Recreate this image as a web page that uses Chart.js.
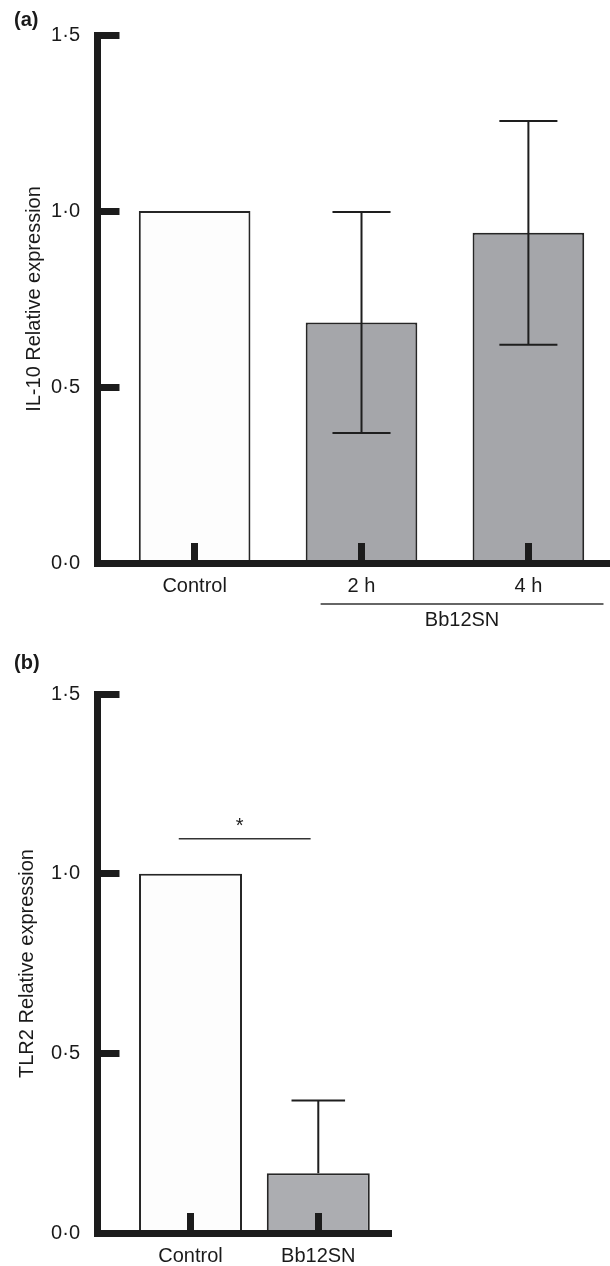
<!DOCTYPE html>
<html>
<head>
<meta charset="utf-8">
<script src="https://cdn.jsdelivr.net/npm/chart.js@4"></script>
<style>
  body { margin: 0; background: #fff; }
  canvas { display: block; }
</style>
</head>
<body>
<canvas id="graficoA" width="610" height="635"></canvas>
<canvas id="graficoB" width="610" height="631"></canvas>
<script>
// Datos panel (a): IL-10
const categoriasA = ['Control', '2 h', '4 h'];
const il10 = [1.0, 0.683, 0.938];
const il10Error = [0, 0.314, 0.318];

// Datos panel (b): TLR2
const categoriasB = ['Control', 'Bb12SN'];
const tlr2 = [1.0, 0.166];
const tlr2Error = [0, 0.203];

// Ticks del eje y (iguales en los dos paneles)
const yTicks = [0, 0.5, 1.0, 1.5];

const fuente = '"Liberation Sans", Arial, Helvetica, sans-serif';
const negro = '#1c1c1c';
const texto = '#1a1a1a';

// Barras de error dibujadas con la escala y del grafico
const barrasError = {
  id: 'barrasError',
  afterDatasetsDraw(chart, args, opts) {
    const ctx = chart.ctx;
    const y = chart.scales.y;
    const meta = chart.getDatasetMeta(0);
    const datos = chart.data.datasets[0].data;
    ctx.save();
    ctx.strokeStyle = '#1e1e1e';
    ctx.lineWidth = 2;
    meta.data.forEach((barra, i) => {
      const err = opts.errores[i];
      if (!err) return;
      const v = datos[i].y;
      const arriba = y.getPixelForValue(v + err);
      const abajo = opts.ambos ? y.getPixelForValue(v - err) : barra.y;
      const media = barra.width * 0.26;
      ctx.beginPath();
      ctx.moveTo(barra.x, arriba);
      ctx.lineTo(barra.x, abajo);
      ctx.moveTo(barra.x - media, arriba);
      ctx.lineTo(barra.x + media, arriba);
      if (opts.ambos) {
        ctx.moveTo(barra.x - media, abajo);
        ctx.lineTo(barra.x + media, abajo);
      }
      ctx.stroke();
    });
    ctx.restore();
  }
};

// Letra del panel, corchete de grupo y linea de significancia
const anotaciones = {
  id: 'anotaciones',
  afterDraw(chart, args, opts) {
    const ctx = chart.ctx;
    const x = chart.scales.x;
    const y = chart.scales.y;
    const abajo = chart.chartArea.bottom;
    ctx.save();
    ctx.fillStyle = texto;
    ctx.font = 'bold 20px ' + fuente;
    ctx.textAlign = 'left';
    ctx.textBaseline = 'alphabetic';
    ctx.fillText(opts.panel, 14, opts.panelY);

    ctx.strokeStyle = '#333';
    ctx.lineWidth = 1.5;
    if (opts.corchete) {
      const c = opts.corchete;
      const x1 = x.getPixelForValue(c.desde);
      const x2 = x.getPixelForValue(c.hasta);
      ctx.beginPath();
      ctx.moveTo(x1, abajo + 41);
      ctx.lineTo(x2, abajo + 41);
      ctx.stroke();
      ctx.font = '20px ' + fuente;
      ctx.textAlign = 'center';
      ctx.textBaseline = 'middle';
      ctx.fillText(c.texto, (x1 + x2) / 2, abajo + 57);
    }
    if (opts.signif) {
      const s = opts.signif;
      const py = y.getPixelForValue(s.nivel);
      ctx.beginPath();
      ctx.moveTo(x.getPixelForValue(s.desde), py);
      ctx.lineTo(x.getPixelForValue(s.hasta), py);
      ctx.stroke();
      ctx.font = '20px ' + fuente;
      ctx.textAlign = 'center';
      ctx.textBaseline = 'alphabetic';
      ctx.fillText('*', x.getPixelForValue(s.marca), py - 7);
    }
    ctx.restore();
  }
};

function escalas(categorias, xMin, xMax, altoEjeX, tituloY, padTitulo) {
  return {
    x: {
      type: 'linear',
      min: xMin,
      max: xMax,
      offset: false,
      afterBuildTicks: s => { s.ticks = categorias.map((c, i) => ({ value: i })); },
      afterFit: s => { s.height = altoEjeX; s.paddingLeft = 0; s.paddingRight = 0; },
      border: { color: negro, width: 7, z: 1 },
      grid: { offset: false, drawOnChartArea: false, tickLength: -20, tickWidth: 7, tickColor: negro, z: 1 },
      ticks: {
        padding: 31, color: texto, maxRotation: 0, autoSkip: false,
        font: { size: 20, family: fuente },
        callback: v => categorias[v]
      }
    },
    y: {
      min: 0,
      max: 1.5,
      afterBuildTicks: s => { s.ticks = yTicks.map(v => ({ value: v })); },
      afterFit: s => { s.width = 97.5; s.paddingTop = 0; s.paddingBottom = 0; },
      border: { color: negro, width: 7, z: 1 },
      grid: { drawOnChartArea: false, tickLength: -22, tickWidth: 7, tickColor: negro, z: 1 },
      ticks: {
        padding: 39.5, color: texto,
        font: { size: 20, family: fuente },
        callback: v => v.toFixed(1).replace('.', '·')
      },
      title: {
        display: true, text: tituloY, color: texto,
        font: { size: 20, family: fuente },
        padding: { top: padTitulo, bottom: 0 }
      }
    }
  };
}

new Chart(document.getElementById('graficoA'), {
  type: 'bar',
  data: {
    datasets: [{
      data: categoriasA.map((c, i) => ({ x: i, y: il10[i] })),
      backgroundColor: ['#fdfdfd', '#a5a6aa', '#a5a6aa'],
      borderColor: '#262626',
      borderWidth: 2,
      categoryPercentage: 1,
      barPercentage: 0.669
    }]
  },
  options: {
    responsive: false,
    animation: false,
    devicePixelRatio: 1,
    layout: { padding: { top: 35, left: 0, right: 0, bottom: 0 } },
    scales: escalas(categoriasA, -0.582, 2.489, 72, 'IL-10 Relative expression', 22),
    plugins: {
      legend: { display: false },
      tooltip: { enabled: false },
      barrasError: { errores: il10Error, ambos: true },
      anotaciones: {
        panel: '(a)', panelY: 26,
        corchete: { desde: 0.755, hasta: 2.45, texto: 'Bb12SN' }
      }
    }
  },
  plugins: [barrasError, anotaciones]
});

new Chart(document.getElementById('graficoB'), {
  type: 'bar',
  data: {
    datasets: [{
      data: categoriasB.map((c, i) => ({ x: i, y: tlr2[i] })),
      backgroundColor: ['#fdfdfd', '#acadb1'],
      borderColor: '#262626',
      borderWidth: 2,
      categoryPercentage: 1,
      barPercentage: 0.806
    }]
  },
  options: {
    responsive: false,
    animation: false,
    devicePixelRatio: 1,
    layout: { padding: { top: 59, left: 0, right: 218.5, bottom: 0 } },
    scales: escalas(categoriasB, -0.728, 1.573, 33, 'TLR2 Relative expression', 15.5),
    plugins: {
      legend: { display: false },
      tooltip: { enabled: false },
      barrasError: { errores: tlr2Error, ambos: false },
      anotaciones: {
        panel: '(b)', panelY: 34,
        signif: { nivel: 1.097, desde: -0.092, hasta: 0.94, marca: 0.385 }
      }
    }
  },
  plugins: [barrasError, anotaciones]
});
</script>
</body>
</html>
